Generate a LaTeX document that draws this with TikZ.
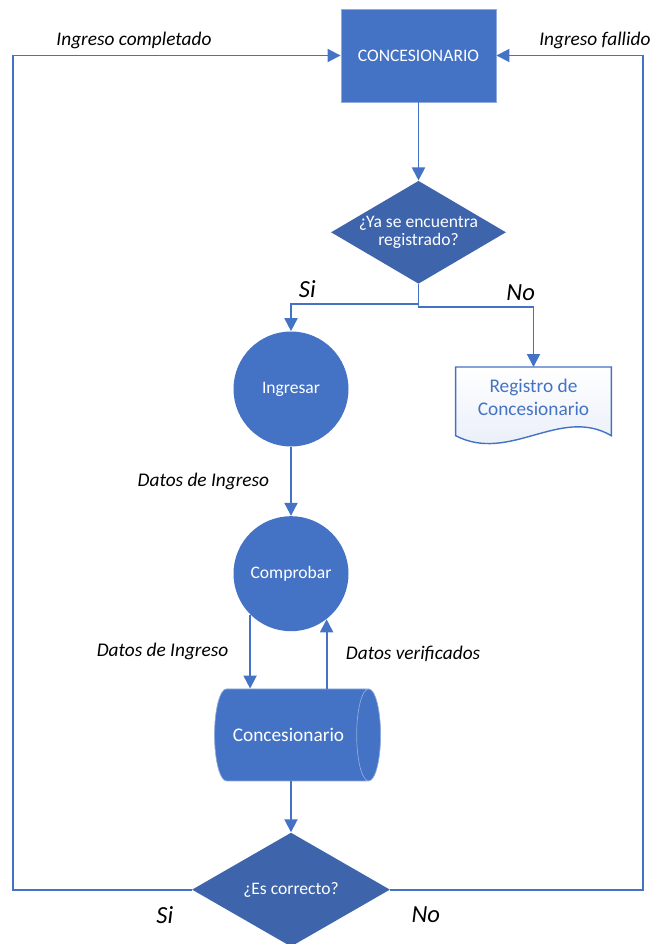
\documentclass[tikz,border=0pt]{standalone}
\usepackage{fontspec}
\setmainfont{Carlito}
\usepackage{xcolor}
\definecolor{cncblue}{HTML}{4472C4}
\definecolor{cncdark}{HTML}{3E64AC}
\definecolor{cncrim}{HTML}{8FAADC}
\usepackage{tikz}
\usetikzlibrary{arrows.meta,positioning,shapes.geometric,backgrounds}
\tikzset{
  cncbox/.style={draw=cncrim,line width=0.5pt,fill=cncblue,text=white,minimum width=31mm,minimum height=18.6mm,align=center,font=\fontsize{10}{12}\selectfont},
  cncdec/.style={diamond,fill=cncdark,inner sep=0pt},
  cncdectext/.style={text=white,align=center,font=\fontsize{10}{10.5}\selectfont},
  cncproc/.style={circle,fill=cncblue,minimum size=23mm,inner sep=0pt,text=white,font=\fontsize{10}{12}\selectfont},
  cncstore/.style={cylinder,draw=cncrim,line width=0.4pt,fill=cncblue,aspect=0.95,minimum width=18.4mm,minimum height=33.2mm,text=white,font=\fontsize{11}{13}\selectfont},
  cncdoc/.style={minimum width=31mm,minimum height=12mm,inner sep=0pt,align=center,text=cncblue,font=\fontsize{11}{13.3}\selectfont},
  cncflow/.style={draw=cncblue,line width=1.1pt,-{Triangle[length=2.6mm,width=2.6mm]}},
  cnclabel/.style={font=\fontsize{11}{13}\selectfont\itshape},
  cncbranch/.style={font=\fontsize{14}{16}\selectfont\itshape},
}

\begin{document}
\begin{tikzpicture}
\useasboundingbox (0,0) rectangle (130.4mm,-188.8mm);
 % main column
\node[cncbox] (conc) at (83.7mm,-11.1mm) {CONCESIONARIO};
\node[cncdec,minimum width=35mm,minimum height=20.6mm,below=15.6mm of conc,label={[cncdectext]center:{¿Ya se encuentra\\registrado?}}] (reg) {};
\node[cncproc] (ing) at (58.2mm,-77.8mm) {Ingresar};
\node[cncproc,below=13.8mm of ing] (comp) {Comprobar};
\node[cncstore,below=11.4mm of comp,xshift=-0.5mm] (db) {Concesionario};
\node[cncdec,minimum width=39.6mm,minimum height=22.8mm,below=10.2mm of db,xshift=0.5mm,label={[cncdectext]center:¿Es correcto?}] (chk) {};
\node[cncdoc,anchor=north] (doc) at (106.7mm,-73.4mm) {Registro de\\Concesionario};
\begin{scope}[on background layer]
\draw[cncblue,line width=0.8pt,top color=white,bottom color=cncblue!14] ([yshift=-1.6mm]doc.south west) -- (doc.north west) -- (doc.north east) -- ([yshift=-1.6mm]doc.south east) .. controls +(-10.2mm,6mm) and +(10.8mm,-5.6mm) .. ([yshift=-1.6mm]doc.south west) -- cycle;
\end{scope}

\draw[cncflow] (conc) -- (reg);
\draw[cncflow] (reg.south) -- ++(0,-4mm) -| node[cncbranch,above,pos=0.436]{Si} (ing.north);
\draw[cncflow] (reg.south) -- ++(0,-4.6mm) -| node[cncbranch,above,pos=0.444]{No} (doc.north);
\draw[cncflow] (ing) -- node[cnclabel,left=3mm]{Datos de Ingreso} (comp);
\draw[cncflow] (comp.south west) -- node[cnclabel,left=3mm]{Datos de Ingreso} (comp.south west |- db.north);
\draw[cncflow] (db.north -| comp.-52) -- node[cnclabel,right=2.5mm]{Datos verificados} (comp.-52);
\draw[cncflow] (db.south -| chk.north) -- (chk.north);
 % loops back to the top box
\draw[cncflow] (chk.west) -- node[cncbranch,below=2mm,pos=0.15]{Si} ++(-35.8mm,0) |- node[cnclabel,above,pos=0.685]{Ingreso completado} (conc.west);
\draw[cncflow] (chk.east) -- node[cncbranch,below=2mm,pos=0.14]{No} ++(50.6mm,0) |- node[cnclabel,above,pos=0.665]{Ingreso fallido} (conc.east);
\end{tikzpicture}
\end{document}
